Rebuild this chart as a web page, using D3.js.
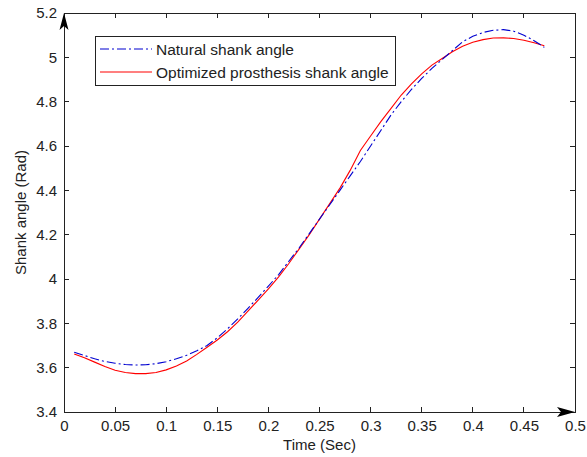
<!DOCTYPE html>
<html><head><meta charset="utf-8">
<script src="https://cdn.jsdelivr.net/npm/d3@7"></script>
<style>body{margin:0;background:#fff}svg{display:block}text{font-family:"Liberation Sans",Arial,sans-serif}</style>
</head><body><svg id="c" width="587" height="457"></svg>
<script>
const time = [0.01,0.02,0.03,0.04,0.05,0.06,0.07,0.08,0.09,0.10,0.11,0.12,0.13,0.14,0.15,0.16,0.17,0.18,0.19,0.20,0.21,0.22,0.23,0.24,0.25,0.26,0.27,0.28,0.29,0.30,0.31,0.32,0.33,0.34,0.35,0.36,0.37,0.38,0.39,0.40,0.41,0.42,0.43,0.44,0.45,0.46,0.47];
const natural = [3.670,3.655,3.640,3.628,3.620,3.614,3.612,3.613,3.618,3.627,3.640,3.656,3.676,3.700,3.735,3.775,3.820,3.868,3.917,3.968,4.020,4.080,4.140,4.205,4.270,4.335,4.400,4.465,4.530,4.600,4.670,4.740,4.800,4.855,4.905,4.950,4.990,5.030,5.070,5.095,5.112,5.122,5.125,5.118,5.100,5.075,5.045];
const optimized = [3.662,3.645,3.625,3.605,3.588,3.578,3.573,3.573,3.578,3.590,3.608,3.630,3.660,3.692,3.725,3.762,3.805,3.855,3.905,3.955,4.010,4.070,4.135,4.200,4.270,4.340,4.410,4.490,4.580,4.645,4.710,4.770,4.830,4.880,4.925,4.965,4.995,5.025,5.050,5.068,5.080,5.087,5.088,5.085,5.077,5.066,5.052];
const xTicks = [0,0.05,0.1,0.15,0.2,0.25,0.3,0.35,0.4,0.45,0.5];
const yTicks = [3.4,3.6,3.8,4,4.2,4.4,4.6,4.8,5,5.2];
const seriesNames = ["Natural shank angle","Optimized prosthesis shank angle"];

const svg = d3.select("#c");
const L=64, R=575, T=13, B=412;
const x = d3.scaleLinear().domain([0,0.5]).range([L,R]);
const y = d3.scaleLinear().domain([3.4,5.2]).range([B,T]);
const fmt = d => String(+d.toFixed(2));
const FS = 15;

// box
svg.append("rect").attr("x",L).attr("y",T).attr("width",R-L).attr("height",B-T)
  .attr("fill","none").attr("stroke","#222").attr("stroke-width",1).attr("shape-rendering","crispEdges");

// bottom axis
const gx = svg.append("g").attr("transform",`translate(0,${B})`)
  .call(d3.axisBottom(x).tickValues(xTicks).tickSize(0).tickPadding(8).tickFormat(fmt));
gx.select(".domain").remove();
gx.selectAll("text").attr("font-size",FS).attr("fill","#222");
// left axis
const gy = svg.append("g").attr("transform",`translate(${L},0)`)
  .call(d3.axisLeft(y).tickValues(yTicks).tickSize(0).tickPadding(7).tickFormat(fmt));
gy.select(".domain").remove();
gy.selectAll("text").attr("font-size",FS).attr("fill","#222");

// inward ticks on all sides
const tk = svg.append("g").attr("stroke","#222").attr("shape-rendering","crispEdges");
xTicks.slice(1,-1).forEach(v=>{
  tk.append("line").attr("x1",x(v)).attr("x2",x(v)).attr("y1",B).attr("y2",B-5);
  tk.append("line").attr("x1",x(v)).attr("x2",x(v)).attr("y1",T).attr("y2",T+5);
});
yTicks.slice(1,-1).forEach(v=>{
  tk.append("line").attr("y1",y(v)).attr("y2",y(v)).attr("x1",L).attr("x2",L+5);
  tk.append("line").attr("y1",y(v)).attr("y2",y(v)).attr("x1",R).attr("x2",R-5);
});

// arrows
svg.append("path").attr("fill","#000")
  .attr("d",`M${L},${T} L${L-4.5},${T+17} L${L},${T+13} L${L+4.5},${T+17} Z`);
svg.append("path").attr("fill","#000")
  .attr("d",`M${R},${B} L${R-18},${B-5} L${R-14},${B} L${R-18},${B+5} Z`);

// lines
const line = d3.line().x(d=>x(d[0])).y(d=>y(d[1]));
svg.append("path").datum(time.map((t,i)=>[t,optimized[i]]))
  .attr("d",line).attr("fill","none").attr("stroke","#ff0000").attr("stroke-width",1.1);
svg.append("path").datum(time.map((t,i)=>[t,natural[i]]))
  .attr("d",line).attr("fill","none").attr("stroke","#0000d0").attr("stroke-width",1.1)
  .attr("stroke-dasharray","9,3,2,3");

// labels
svg.append("text").attr("x",(L+R)/2).attr("y",450).attr("text-anchor","middle")
  .attr("font-size",FS).attr("fill","#222").text("Time (Sec)");
svg.append("text").attr("transform",`translate(26,${(T+B)/2}) rotate(-90)`).attr("text-anchor","middle")
  .attr("font-size",FS).attr("fill","#222").text("Shank angle (Rad)");

// legend
const lg = svg.append("g");
lg.append("rect").attr("x",95.5).attr("y",36.5).attr("width",300).attr("height",49)
  .attr("fill","#fff").attr("stroke","#222");
const styles = [{c:"#0000d0",d:"9,3,2,3"},{c:"#ff0000",d:null}];
seriesNames.forEach((n,i)=>{
  const yy = 49 + i*23;
  lg.append("line").attr("x1",100).attr("x2",152).attr("y1",yy).attr("y2",yy)
    .attr("stroke",styles[i].c).attr("stroke-width",1.1).attr("stroke-dasharray",styles[i].d);
  lg.append("text").attr("x",156).attr("y",yy+5.5).attr("font-size",15.5).attr("fill","#222").text(n);
});
</script></body></html>
